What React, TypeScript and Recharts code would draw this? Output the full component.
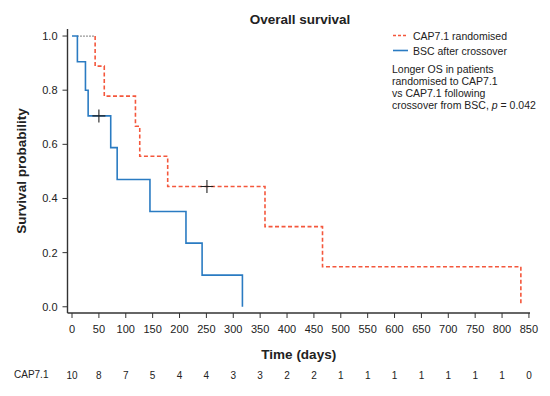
import React from "react";
import {
  ComposedChart,
  Line,
  Scatter,
  XAxis,
  YAxis,
  Legend,
} from "recharts";

// Kaplan-Meier steps: the value holds from that day on.
const capDays = [0, 43, 60, 118, 126, 178, 359, 466, 835];
const capSurv = [1, 0.889, 0.778, 0.667, 0.556, 0.444, 0.296, 0.148, 0.01];
const bscDays = [0, 10, 25, 30, 72, 84, 145, 212, 242, 317];
const bscSurv = [1, 0.905, 0.8, 0.705, 0.588, 0.47, 0.352, 0.235, 0.117, 0];

// censored observations (+ marks)
const censorDays = [50, 251];
const censorSurv = [0.705, 0.444];

const xTicks = [0, 50, 100, 150, 200, 250, 300, 350, 400, 450, 500, 550, 600, 650, 700, 750, 800, 850];
const yTicks = [0, 0.2, 0.4, 0.6, 0.8, 1];
const atRisk = [10, 8, 7, 5, 4, 4, 3, 3, 2, 2, 1, 1, 1, 1, 1, 1, 1, 0];

const RED = "#f4573c";
const BLUE = "#2a7bc2";
const INK = "#222";
const FONT = '"Liberation Sans", Arial, Helvetica, sans-serif';

const bscData = bscDays.map((day, i) => ({ day, surv: bscSurv[i] }));
const capData = capDays.map((day, i) => ({ day, surv: capSurv[i] }));
// the red curve's flat start (shared with blue) is drawn as a dotted tie
const capVisible = [{ day: capDays[1], surv: capSurv[0] }, ...capData.slice(1)];
const tiedData = [
  { day: bscDays[1], surv: 1 },
  { day: capDays[1], surv: 1 },
];
const censorData = censorDays.map((day, i) => ({ day, surv: censorSurv[i] }));

const Cross = (props: any) => {
  const { cx, cy } = props;
  return (
    <g stroke={INK} strokeWidth={1.1}>
      <line x1={cx - 6.5} y1={cy} x2={cx + 6.5} y2={cy} />
      <line x1={cx} y1={cy - 6.5} x2={cx} y2={cy + 6.5} />
    </g>
  );
};

// day label plus the number-at-risk row underneath
const DayTick = (props: any) => {
  const { x, y, payload } = props;
  const n = atRisk[xTicks.indexOf(payload.value)];
  return (
    <g>
      <text x={x} y={y} dy="0.71em" textAnchor="middle" fontSize={11} fill={INK}>
        {payload.value}
      </text>
      <text x={x} y={y + 50} dominantBaseline="central" textAnchor="middle" fontSize={10} fill={INK}>
        {n}
      </text>
    </g>
  );
};

const LegendBox = () => (
  <div style={{ fontFamily: FONT, fontSize: 10.5, color: INK }}>
    <div style={{ display: "flex", alignItems: "center", height: 15 }}>
      <svg width={21} height={15}>
        <line x1={1} y1={7.5} x2={16} y2={7.5} stroke={RED} strokeWidth={1.6} strokeDasharray="3 2" />
      </svg>
      <span>CAP7.1 randomised</span>
    </div>
    <div style={{ display: "flex", alignItems: "center", height: 15 }}>
      <svg width={21} height={15}>
        <line x1={1} y1={7.5} x2={16} y2={7.5} stroke={BLUE} strokeWidth={1.6} />
      </svg>
      <span>BSC after crossover</span>
    </div>
    <div style={{ marginTop: 4.5, lineHeight: "12.3px" }}>
      Longer OS in patients
      <br />
      randomised to CAP7.1
      <br />
      vs CAP7.1 following
      <br />
      crossover from BSC, <i>p</i> = 0.042
    </div>
  </div>
);

export default function App() {
  return (
    <div
      style={{
        position: "absolute",
        left: 0,
        top: 0,
        width: 550,
        height: 396,
        background: "#fff",
        fontFamily: FONT,
      }}
    >
      <div
        style={{
          position: "absolute",
          left: 0,
          width: 600,
          top: 12,
          textAlign: "center",
          fontWeight: "bold",
          fontSize: 13.5,
          color: INK,
        }}
      >
        Overall survival
      </div>
      <div
        style={{
          position: "absolute",
          left: 14,
          top: 369,
          fontSize: 10,
          color: INK,
        }}
      >
        CAP7.1
      </div>
      <ComposedChart
        width={550}
        height={396}
        margin={{ top: 29, right: 20, bottom: 8, left: 0 }}
      >
        <XAxis
          dataKey="day"
          type="number"
          domain={[-8.4, 852]}
          ticks={xTicks}
          interval={0}
          allowDataOverflow
          height={75}
          tickSize={5}
          tickMargin={7}
          stroke="#333"
          tick={<DayTick />}
          axisLine={{ stroke: "#333", strokeWidth: 1.4 }}
          label={{
            value: "Time (days)",
            position: "insideBottom",
            offset: 29,
            style: { fontWeight: "bold", fontSize: 13.5, fill: INK },
          }}
        />
        <YAxis
          type="number"
          domain={[-0.023, 1.026]}
          ticks={yTicks}
          interval={0}
          allowDataOverflow
          width={67.5}
          tickSize={5}
          tickMargin={5}
          stroke="#333"
          tick={{ fontSize: 11, fill: INK }}
          axisLine={{ stroke: "#333", strokeWidth: 1.4 }}
          tickFormatter={(v: number) => v.toFixed(1)}
          label={() => (
            <text
              x={21}
              y={171}
              transform="rotate(-90 21 171)"
              textAnchor="middle"
              dominantBaseline="central"
              fontWeight="bold"
              fontSize={13.5}
              fill={INK}
            >
              Survival probability
            </text>
          )}
        />
        <Legend
          layout="horizontal"
          verticalAlign="middle"
          align="center"
          wrapperStyle={{ top: 28, left: 392, width: 158 }}
          content={() => <LegendBox />}
        />
        <Line
          data={capVisible}
          dataKey="surv"
          type="stepAfter"
          stroke={RED}
          strokeWidth={1.6}
          strokeDasharray="4 2.5"
          dot={false}
          isAnimationActive={false}
        />
        <Line
          data={tiedData}
          dataKey="surv"
          type="linear"
          stroke="#555"
          strokeWidth={1.2}
          strokeDasharray="1.2 1.8"
          dot={false}
          isAnimationActive={false}
        />
        <Line
          data={bscData}
          dataKey="surv"
          type="stepAfter"
          stroke={BLUE}
          strokeWidth={1.6}
          dot={false}
          isAnimationActive={false}
        />
        <Scatter
          data={censorData}
          dataKey="surv"
          shape={<Cross />}
          isAnimationActive={false}
        />
      </ComposedChart>
    </div>
  );
}
